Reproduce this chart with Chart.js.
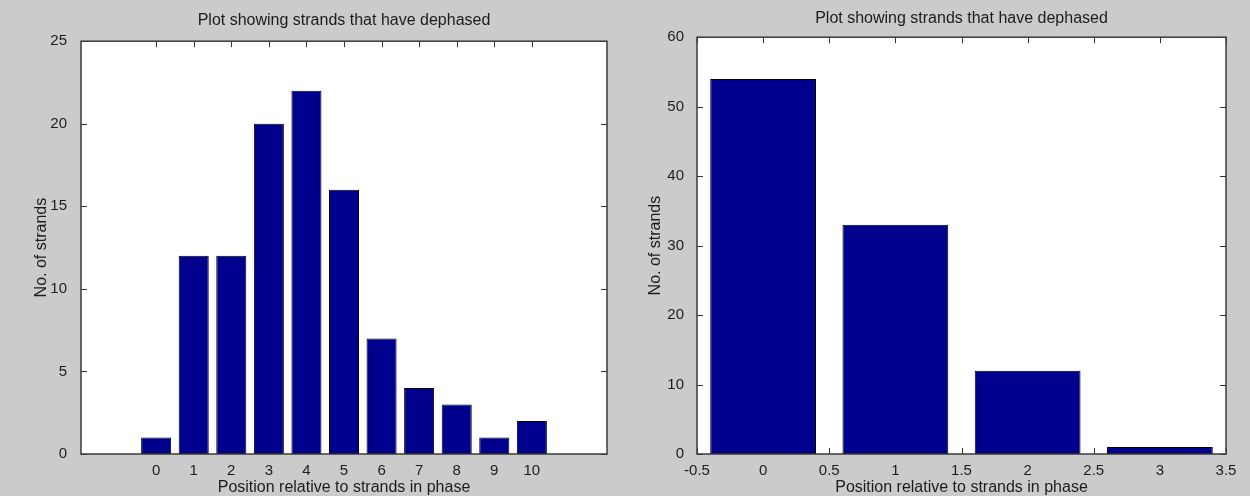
<!DOCTYPE html>
<html>
<head>
<meta charset="utf-8">
<script src="https://cdn.jsdelivr.net/npm/chart.js@4"></script>
<style>
  html, body { margin: 0; padding: 0; background: #cbcbcb; }
  .pane { position: absolute; top: 0; width: 625px; height: 496px; }
  #leftPane { left: 0; }
  #rightPane { left: 625px; }
</style>
</head>
<body>
<div class="pane" id="leftPane"><canvas id="chartLeft"></canvas></div>
<div class="pane" id="rightPane"><canvas id="chartRight"></canvas></div>
<script>
// left plot: integer positions
const left_positions = [0, 1, 2, 3, 4, 5, 6, 7, 8, 9, 10];
const left_counts = [1, 12, 12, 20, 22, 16, 7, 4, 3, 1, 2];
const left_x_range = [-2, 12];
const left_y_max = 25;
const left_y_step = 5;

// right plot: coarser bins
const right_positions = [0, 1, 2, 3];
const right_counts = [54, 33, 12, 1];
const right_x_range = [-0.5, 3.5];
const right_x_step = 0.5;
const right_y_max = 60;
const right_y_step = 10;

const title_text = "Plot showing strands that have dephased";
const x_title = "Position relative to strands in phase";
const y_title = "No. of strands";

const bar_fill = "#00008f";
const text_color = "#1c1c1c";
const bar_width = 0.8; // in x units, like matlab bar()

Chart.defaults.font.family = "'Liberation Sans', Arial, sans-serif";
Chart.defaults.color = text_color;

// white axes box, inward ticks on all four sides, dark frame
const matlabAxes = {
    id: "matlabAxes",
    beforeDatasetsDraw(chart) {
        const { ctx, chartArea: a, scales } = chart;
        const x = scales.x, y = scales.y;
        const len = 6;
        ctx.save();
        ctx.fillStyle = "#fff";
        ctx.fillRect(a.left, a.top, a.right - a.left, a.bottom - a.top);
        ctx.strokeStyle = "#333";
        ctx.lineWidth = 1;
        ctx.beginPath();
        x.ticks.forEach(t => {
            const px = Math.round(x.getPixelForValue(t.value)) + 0.5;
            ctx.moveTo(px, a.bottom); ctx.lineTo(px, a.bottom - len);
            ctx.moveTo(px, a.top); ctx.lineTo(px, a.top + len);
        });
        y.ticks.forEach(t => {
            const py = Math.round(y.getPixelForValue(t.value)) + 0.5;
            ctx.moveTo(a.left, py); ctx.lineTo(a.left + len, py);
            ctx.moveTo(a.right, py); ctx.lineTo(a.right - len, py);
        });
        ctx.stroke();
        ctx.restore();
    },
    afterDatasetsDraw(chart) {
        const { ctx, chartArea: a } = chart;
        ctx.save();
        ctx.strokeStyle = "#3a3a3a";
        ctx.lineWidth = 1.5;
        ctx.strokeRect(a.left, a.top, a.right - a.left, a.bottom - a.top);
        ctx.restore();
    },
};

function makeConfig(positions, counts, opts) {
    return {
        type: "bar",
        data: {
            datasets: [
                {
                    data: positions.map((p, i) => ({ x: p, y: counts[i] })),
                    backgroundColor: bar_fill,
                    borderColor: "#000",
                    borderWidth: 1,
                    borderSkipped: false,
                    categoryPercentage: 1,
                    barPercentage: opts.barPercentage,
                },
            ],
        },
        options: {
            responsive: true,
            maintainAspectRatio: false,
            animation: false,
            layout: { padding: { left: 0, right: opts.padRight, top: 0, bottom: 0 } },
            plugins: {
                legend: { display: false },
                tooltip: { enabled: false },
                title: {
                    display: true,
                    text: title_text,
                    fullSize: false,
                    color: text_color,
                    font: { size: 16, weight: "normal" },
                    padding: opts.titlePad,
                },
            },
            scales: {
                x: {
                    type: "linear",
                    offset: false,
                    min: opts.xRange[0],
                    max: opts.xRange[1],
                    grid: { display: false },
                    border: { display: false },
                    ticks: Object.assign({
                        font: { size: 15 },
                        padding: 0,
                        maxRotation: 0,
                        autoSkip: false,
                        callback: v => String(v), // "1" not "1.0"
                    }, opts.xTicks),
                    afterBuildTicks: opts.xAfterBuild,
                    afterFit: s => { s.height = 42; },
                    title: {
                        display: true,
                        text: x_title,
                        font: { size: 16, lineHeight: 1 },
                        padding: 0,
                    },
                },
                y: {
                    min: 0,
                    max: opts.yMax,
                    grid: { display: false },
                    border: { display: false },
                    ticks: { stepSize: opts.yStep, font: { size: 15 }, padding: opts.yTickPad },
                    afterFit: s => { s.width = opts.yWidth; },
                    title: {
                        display: true,
                        text: y_title,
                        font: { size: 16 },
                        padding: { top: opts.yTitlePad, bottom: 0 },
                    },
                },
            },
        },
        plugins: [matlabAxes],
    };
}

const config_left = makeConfig(left_positions, left_counts, {
    barPercentage: bar_width,
    padRight: 18,
    titlePad: { top: 11, bottom: 11 },
    xRange: left_x_range,
    xTicks: {},
    // only label the bar positions, not the empty margins
    xAfterBuild: s => { s.ticks = left_positions.map(v => ({ value: v })); },
    yMax: left_y_max,
    yStep: left_y_step,
    yTickPad: 6,
    yWidth: 81,
    yTitlePad: 32,
});

const config_right = makeConfig(right_positions, right_counts, {
    // bar ruler uses the 0.5 tick spacing, so scale the percentage up
    barPercentage: bar_width / right_x_step,
    padRight: 24,
    titlePad: { top: 9, bottom: 9 },
    xRange: right_x_range,
    xTicks: { stepSize: right_x_step },
    xAfterBuild: undefined,
    yMax: right_y_max,
    yStep: right_y_step,
    yTickPad: 5,
    yWidth: 72,
    yTitlePad: 21,
});

const chart_left = new Chart(document.getElementById("chartLeft").getContext("2d"), config_left);
const chart_right = new Chart(document.getElementById("chartRight").getContext("2d"), config_right);
</script>
</body>
</html>
